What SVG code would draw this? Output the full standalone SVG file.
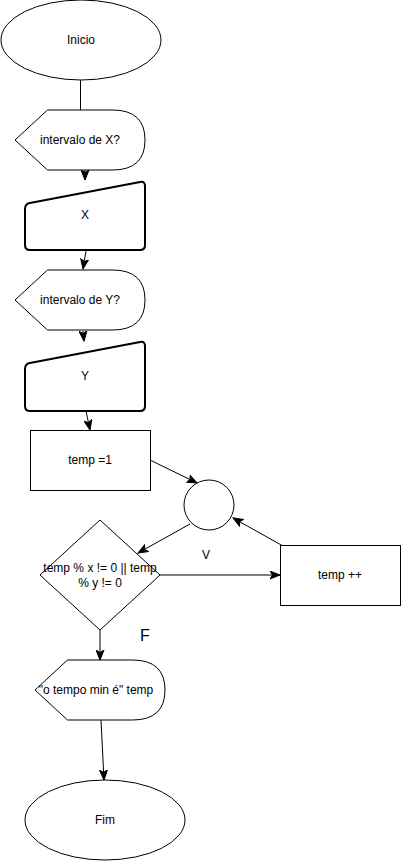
<svg xmlns="http://www.w3.org/2000/svg" width="402" height="862" viewBox="0 0 402 862">
<style>
.s{fill:#fff;stroke:#000;stroke-width:1}
.t{fill:#fff;stroke:#000;stroke-width:2}
.c{fill:none;stroke:#000;stroke-width:1}
text{font-family:"Liberation Sans",Arial,sans-serif;font-size:12px;fill:#000;text-anchor:middle;dominant-baseline:central}
</style>
<defs>
<marker id="a" markerUnits="userSpaceOnUse" markerWidth="11" markerHeight="9" viewBox="0 0 11 9" refX="10" refY="4.5" orient="auto">
<path d="M0,0.5 L10,4.5 L0,8.5 L2.5,4.5 Z" fill="#000" stroke="#000" stroke-width="1"/>
</marker>
</defs>
<rect width="402" height="862" fill="#fff"/>
<g id="connectors">
<line class="c" x1="80.5" y1="80" x2="80.5" y2="110"/>
<line class="c" x1="85" y1="170" x2="85" y2="180" marker-end="url(#a)"/>
<line class="c" x1="86" y1="251" x2="83" y2="269" marker-end="url(#a)"/>
<line class="c" x1="83" y1="331" x2="84" y2="341" marker-end="url(#a)"/>
<line class="c" x1="86" y1="411" x2="90" y2="430" marker-end="url(#a)"/>
<line class="c" x1="150" y1="460" x2="197" y2="483" marker-end="url(#a)"/>
<line class="c" x1="190" y1="524" x2="138" y2="553" marker-end="url(#a)"/>
<line class="c" x1="160" y1="575" x2="280" y2="575" marker-end="url(#a)"/>
<line class="c" x1="283" y1="546" x2="233" y2="518" marker-end="url(#a)"/>
<line class="c" x1="100" y1="630" x2="100" y2="660" marker-end="url(#a)"/>
<line class="c" x1="101" y1="720" x2="104" y2="780" marker-end="url(#a)"/>
<text x="206" y="555">V</text>
<text x="145" y="635" style="font-size:16px">F</text>
</g>
<g id="inicio">
<ellipse class="s" cx="81" cy="40" rx="80" ry="40"/>
<text x="81" y="40">Inicio</text>
</g>
<g id="dispX">
<path class="s" d="M15,140 L47.5,110 L112.5,110 Q145,110 145,140 Q145,170 112.5,170 L47.5,170 Z"/>
<text x="80" y="140">intervalo de X?</text>
</g>
<g id="inX">
<path class="t" d="M25,209 Q25,204 29.9,203.1 L140.1,181.9 Q145,181 145,186 L145,245 Q145,250 140,250 L30,250 Q25,250 25,245 Z"/>
<text x="85" y="215">X</text>
</g>
<g id="dispY">
<path class="s" d="M15,300 L47.5,270 L112.5,270 Q145,270 145,300 Q145,330 112.5,330 L47.5,330 Z"/>
<text x="80" y="300">intervalo de Y?</text>
</g>
<g id="inY">
<path class="t" d="M25,369 Q25,364 29.9,363.1 L140.1,341.9 Q145,341 145,346 L145,406 Q145,411 140,411 L30,411 Q25,411 25,406 Z"/>
<text x="85" y="376">Y</text>
</g>
<g id="temp1">
<rect class="s" x="30.5" y="430.5" width="120" height="60"/>
<text x="90" y="460">temp =1</text>
</g>
<g id="join">
<circle class="s" cx="209" cy="505" r="25"/>
</g>
<g id="decision">
<path class="s" d="M40,575 L100,520 L160,575 L100,630 Z"/>
<text x="100" y="568">temp % x != 0 || temp</text>
<text x="100" y="583">% y != 0</text>
</g>
<g id="tempinc">
<rect class="s" x="280.5" y="545.5" width="120" height="60"/>
<text x="340" y="575">temp ++</text>
</g>
<g id="dispOut">
<path class="s" d="M35,690 L67.5,660 L132.5,660 Q165,660 165,690 Q165,720 132.5,720 L67.5,720 Z"/>
<text x="96" y="690">"o tempo min é" temp</text>
</g>
<g id="fim">
<ellipse class="s" cx="105" cy="820" rx="80" ry="40"/>
<text x="105" y="820">Fim</text>
</g>
</svg>
